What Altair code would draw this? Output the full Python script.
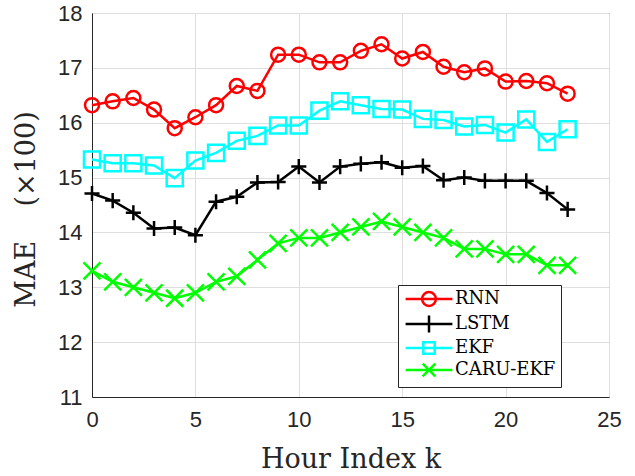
import altair as alt
import pandas as pd

hours = list(range(24))
series = ["RNN", "LSTM", "EKF", "CARU-EKF"]
rnn = [16.32, 16.39, 16.45, 16.24, 15.90, 16.10, 16.32, 16.67, 16.58, 17.24, 17.24, 17.10,
       17.10, 17.31, 17.43, 17.17, 17.29, 17.02, 16.92, 16.99, 16.75, 16.76, 16.72, 16.53]
lstm = [14.71, 14.58, 14.36, 14.07, 14.09, 13.95, 14.56, 14.65, 14.91, 14.92, 15.20, 14.91,
        15.20, 15.25, 15.28, 15.18, 15.21, 14.95, 15.00, 14.94, 14.94, 14.94, 14.72, 14.42]
ekf = [15.33, 15.26, 15.26, 15.22, 14.99, 15.31, 15.45, 15.67, 15.76, 15.95, 15.95, 16.22,
       16.39, 16.32, 16.25, 16.24, 16.07, 16.05, 15.93, 15.96, 15.82, 16.06, 15.65, 15.88]
caru = [13.3, 13.1, 13.0, 12.9, 12.8, 12.9, 13.1, 13.2, 13.5, 13.8, 13.9, 13.9,
        14.0, 14.1, 14.2, 14.1, 14.0, 13.9, 13.7, 13.7, 13.6, 13.6, 13.4, 13.4]
x_ticks = [0, 5, 10, 15, 20, 25]
y_ticks = [11, 12, 13, 14, 15, 16, 17, 18]

colors = ["#FF0000", "#000000", "#00FFFF", "#00FF00"]
plot_shapes = ["circle", "M0,-1L0,1M-1,0L1,0", "square", "M-1,-1L1,1M-1,1L1,-1"]
plot_sizes = [196, 289, 100, 140]
# legend symbols: unit = 6 px (size 144); a 47 px line with the marker on it
legend_shapes = [
    "M-3.9,0L3.9,0M1.15,0A1.15,1.15 0 1,1 -1.15,0A1.15,1.15 0 1,1 1.15,0",
    "M-3.9,0L3.9,0M0,-1.4L0,1.4",
    "M-3.9,0L3.9,0M-0.95,-0.95L0.95,-0.95L0.95,0.95L-0.95,0.95Z",
    "M-3.9,0L3.9,0M-1.05,-1.05L1.05,1.05M-1.05,1.05L1.05,-1.05",
]

rows = []
for name, vals in zip(series, [rnn, lstm, ekf, caru]):
    for h, v in zip(hours, vals):
        rows.append({"hour": h, "mae": v, "method": name})
df = pd.DataFrame(rows)

x_enc = alt.X("hour:Q", scale=alt.Scale(domain=[0, 25], nice=False),
              axis=alt.Axis(values=x_ticks, title="Hour Index k", titleY=70,
                            titleBaseline="alphabetic", labelPadding=12,
                            labelFlush=False, format="d"))
y_enc = alt.Y("mae:Q", scale=alt.Scale(domain=[11, 18], nice=False, zero=False),
              axis=alt.Axis(values=y_ticks, title="MAE\u00a0\u00a0\u00a0\u00a0(×100)",
                            titleX=-66, titleY=196,
                            titleAngle=-90, titleBaseline="middle", titleAlign="center",
                            labelPadding=10, labelFlush=False, format="d"))
color_scale = alt.Scale(domain=series, range=colors)

base = alt.Chart(df)

lines = base.mark_line(strokeWidth=2.5).encode(
    x=x_enc, y=y_enc,
    color=alt.Color("method:N", scale=color_scale, legend=None),
    detail="method:N",
)

points = base.mark_point(filled=False, strokeWidth=2.5, opacity=1).encode(
    x="hour:Q", y="mae:Q",
    color=alt.Color("method:N", scale=color_scale, legend=None),
    shape=alt.Shape("method:N", scale=alt.Scale(domain=series, range=plot_shapes), legend=None),
    size=alt.Size("method:N", scale=alt.Scale(domain=series, range=plot_sizes), legend=None),
)

legend_cfg = dict(
    title=None, orient="none", legendX=306, legendY=272,
    symbolSize=144, symbolStrokeWidth=2.5, symbolOpacity=1,
    symbolFillColor="transparent", symbolOffset=17,
    labelFont="DejaVu Serif", labelFontSize=18, labelColor="#000000",
    labelOffset=17, rowPadding=-1, padding=5,
    strokeColor="#262626", fillColor="white", cornerRadius=0,
)

legend_layer = base.mark_point(filled=False, strokeWidth=2.5, opacity=0).encode(
    x="hour:Q", y="mae:Q",
    color=alt.Color("method:N", scale=alt.Scale(domain=series, range=colors),
                    legend=alt.Legend(**legend_cfg)),
    shape=alt.Shape("method:N", scale=alt.Scale(domain=series, range=legend_shapes),
                    legend=alt.Legend(**legend_cfg)),
)

chart = alt.layer(lines, points, legend_layer).resolve_scale(
    shape="independent", color="independent"
).properties(
    width=517, height=384,
    autosize=alt.AutoSizeParams(type="none"),
    padding={"left": 92, "top": 13, "right": 26, "bottom": 79},
).configure_view(
    stroke="#262626", strokeWidth=1
).configure_axis(
    labelFont="Liberation Sans", labelFontSize=22, labelColor="#262626",
    titleFont="DejaVu Serif", titleFontSize=27, titleColor="#262626", titleFontWeight="normal",
    gridColor="#dedede", gridWidth=1, domainColor="#262626", domainWidth=1,
    ticks=False,
)

chart.save("out.html", embed_options={"renderer": "svg", "actions": False})
